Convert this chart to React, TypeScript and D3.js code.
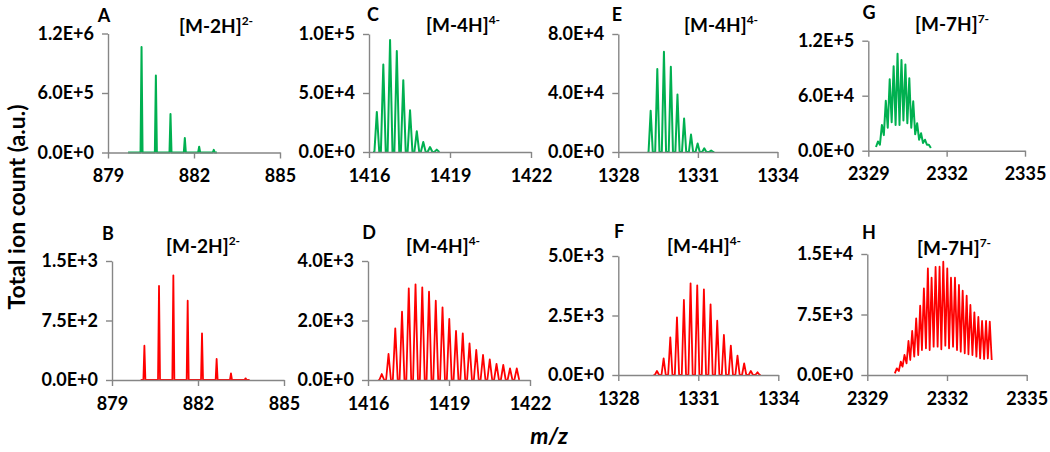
import * as React from 'react';
import {useEffect, useRef} from 'react';
import * as d3 from 'd3';

const GREEN = '#00b050';
const RED = '#ff0000';
const AXIS = '#868686';
const FONT = 'Lato, "Open Sans", sans-serif';

// A: [M-2H]2- (green)
const mzA = [880.17, 880.67, 881.18, 881.68, 882.18, 882.69];
const intA = [1.064e6, 7.77e5, 3.89e5, 1.46e5, 5.8e4, 2.7e4];
const scanA: [number, number] = [879.7, 882.8];
const xTicksA = [879, 882, 885];
const yTicksA = [0, 6e5, 1.2e6];

// B: [M-2H]2- (red)
const mzB = [880.13, 880.64, 881.14, 881.64, 882.14, 882.65, 883.15, 883.66];
const intB = [432, 1185, 1320, 1000, 588, 265, 84, 21];
const scanB: [number, number] = [880.0, 883.8];
const xTicksB = [879, 882, 885];
const yTicksB = [0, 750, 1500];

// C: [M-4H]4- (green)
const mzC = [1416.29, 1416.53, 1416.78, 1417.03, 1417.27, 1417.52, 1417.77, 1418.01, 1418.26, 1418.51];
const intC = [3.4e4, 7.42e4, 9.49e4, 8.55e4, 6.09e4, 3.54e4, 1.76e4, 8.5e3, 4.2e3, 2.0e3];
const scanC: [number, number] = [1416.15, 1418.62];
const xTicksC = [1416, 1419, 1422];
const yTicksC = [0, 5e4, 1e5];

// D: [M-4H]4- (red)
const mzD = [1416.51, 1416.76, 1417.01, 1417.26, 1417.51, 1417.76, 1418.01, 1418.26, 1418.51, 1418.76, 1419.01,
  1419.26, 1419.51, 1419.76, 1420.01, 1420.26, 1420.51, 1420.76, 1421.01, 1421.26, 1421.51];
const intD = [200, 874, 1737, 2297, 3081, 3216, 3115, 2969, 2667, 2443, 2050, 1647, 1569, 1232, 1008, 840, 695,
  538, 504, 392, 392];
const scanD: [number, number] = [1416.38, 1421.62];
const xTicksD = [1416, 1419, 1422];
const yTicksD = [0, 2000, 4000];

// E: [M-4H]4- (green)
const mzE = [1329.22, 1329.47, 1329.72, 1329.98, 1330.23, 1330.48, 1330.74, 1330.99, 1331.24, 1331.50];
const intE = [2.79e4, 5.62e4, 6.8e4, 5.78e4, 3.9e4, 2.27e4, 1.18e4, 5.7e3, 2.5e3, 1.0e3];
const scanE: [number, number] = [1329.1, 1331.62];
const xTicksE = [1328, 1331, 1334];
const yTicksE = [0, 4e4, 8e4];

// F: [M-4H]4- (red)
const mzF = [1329.45, 1329.70, 1329.95, 1330.20, 1330.46, 1330.71, 1330.96, 1331.21, 1331.46, 1331.71, 1331.96,
  1332.22, 1332.47, 1332.72, 1332.97, 1333.22];
const intF = [168, 700, 1583, 2423, 3151, 3853, 3768, 3600, 2969, 2283, 1681, 1232, 812, 490, 170, 113];
const scanF: [number, number] = [1329.32, 1333.34];
const xTicksF = [1328, 1331, 1334];
const yTicksF = [0, 2500, 5000];

// G: [M-7H]7- (green), unresolved so the signal does not return to zero
const mzG = [2329.37, 2329.52, 2329.67, 2329.82, 2329.97, 2330.12, 2330.27, 2330.42, 2330.57, 2330.72, 2330.87,
  2331.02, 2331.17, 2331.32];
const intG = [1.0e4, 2.8e4, 5.45e4, 7.8e4, 9.2e4, 1.058e5, 9.9e4, 9.4e4, 7.9e4, 5.4e4, 3.0e4, 1.9e4, 1.2e4, 6.5e3];
const valleyG = [4e3, 6.5e3, 1.7e4, 2.5e4, 3.1e4, 2.8e4, 2.8e4, 3.3e4, 3.0e4, 2.5e4, 1.8e4, 1.2e4, 8.4e3, 6.5e3, 3e3];
const xTicksG = [2329, 2332, 2335];
const yTicksG = [0, 6e4, 1.2e5];

// H: [M-7H]7- (red)
const mzH = [2330.11, 2330.26, 2330.40, 2330.55, 2330.69, 2330.84, 2330.99, 2331.13, 2331.28, 2331.42, 2331.57,
  2331.72, 2331.86, 2332.01, 2332.15, 2332.30, 2332.45, 2332.59, 2332.74, 2332.88, 2333.03, 2333.18, 2333.32,
  2333.47, 2333.61];
const intH = [826, 1653, 2479, 4215, 5455, 7025, 8595, 10744, 13223, 12066, 13388, 13430, 14050, 13223, 12066,
  12066, 11157, 10455, 9835, 8678, 7769, 7190, 6694, 6694, 6612];
const valleyH = [207, 496, 1033, 1446, 1860, 2273, 2479, 3099, 3306, 3099, 3512, 3512, 3182, 3636, 3306, 3512,
  3099, 2893, 2686, 2562, 2479, 2273, 2066, 1983, 2066, 1860];
const xTicksH = [2329, 2332, 2335];
const yTicksH = [0, 7500, 15000];

interface Frame {left: number; right: number; top: number; bottom: number;}

interface Panel {
  letter: string;
  ion: string;
  charge: string;
  mz: number[];
  intensity: number[];
  valleys?: number[];
  scan?: [number, number];
  xTicks: number[];
  yTicks: number[];
  color: string;
  halfWidth: number;
  frame: Frame;
  letterAt: [number, number];
  ionAt: [number, number];
}

const panels: Panel[] = [
  {letter: 'A', ion: '[M-2H]', charge: '2-', mz: mzA, intensity: intA, scan: scanA, xTicks: xTicksA, yTicks: yTicksA,
    color: GREEN, halfWidth: 0.035, frame: {left: 108, right: 280, top: 33.5, bottom: 152.5},
    letterAt: [104, 21.5], ionAt: [179, 32.5]},
  {letter: 'B', ion: '[M-2H]', charge: '2-', mz: mzB, intensity: intB, scan: scanB, xTicks: xTicksB, yTicks: yTicksB,
    color: RED, halfWidth: 0.035, frame: {left: 112, right: 284, top: 261, bottom: 380},
    letterAt: [108, 239.5], ionAt: [166, 252.5]},
  {letter: 'C', ion: '[M-4H]', charge: '4-', mz: mzC, intensity: intC, scan: scanC, xTicks: xTicksC, yTicks: yTicksC,
    color: GREEN, halfWidth: 0.09, frame: {left: 369, right: 531, top: 34, bottom: 152},
    letterAt: [373, 21], ionAt: [426, 32]},
  {letter: 'D', ion: '[M-4H]', charge: '4-', mz: mzD, intensity: intD, scan: scanD, xTicks: xTicksD, yTicks: yTicksD,
    color: RED, halfWidth: 0.09, frame: {left: 368, right: 530, top: 261, bottom: 380},
    letterAt: [369, 239.3], ionAt: [406, 252.5]},
  {letter: 'E', ion: '[M-4H]', charge: '4-', mz: mzE, intensity: intE, scan: scanE, xTicks: xTicksE, yTicks: yTicksE,
    color: GREEN, halfWidth: 0.08, frame: {left: 618.3, right: 777.5, top: 34, bottom: 152},
    letterAt: [617, 21], ionAt: [684, 32]},
  {letter: 'F', ion: '[M-4H]', charge: '4-', mz: mzF, intensity: intF, scan: scanF, xTicks: xTicksF, yTicks: yTicksF,
    color: RED, halfWidth: 0.08, frame: {left: 618.3, right: 778.3, top: 256, bottom: 375},
    letterAt: [619, 238], ionAt: [667, 253]},
  {letter: 'G', ion: '[M-7H]', charge: '7-', mz: mzG, intensity: intG, valleys: valleyG, xTicks: xTicksG,
    yTicks: yTicksG, color: GREEN, halfWidth: 0.075, frame: {left: 868.3, right: 1025, top: 40.7, bottom: 150.7},
    letterAt: [869, 18.5], ionAt: [915, 30.5]},
  {letter: 'H', ion: '[M-7H]', charge: '7-', mz: mzH, intensity: intH, valleys: valleyH, xTicks: xTicksH,
    yTicks: yTicksH, color: RED, halfWidth: 0.073, frame: {left: 867.3, right: 1026.7, top: 254, bottom: 375},
    letterAt: [869, 239], ionAt: [917, 255]},
];

const sci = (v: number) => {
  if (v === 0) return '0.0E+0';
  const e = Math.floor(Math.log10(v) + 1e-9);
  return `${(v / Math.pow(10, e)).toFixed(1)}E+${e}`;
};

// profile points: narrow triangles on a zero baseline, or a peak/valley zigzag when valleys are given
function profile(p: Panel): [number, number][] {
  const pts: [number, number][] = [];
  const hw = p.halfWidth;
  if (p.valleys) {
    p.mz.forEach((m, i) => {
      pts.push([m - hw, p.valleys![i]]);
      pts.push([m, p.intensity[i]]);
    });
    pts.push([p.mz[p.mz.length - 1] + hw, p.valleys[p.valleys.length - 1]]);
    return pts;
  }
  if (p.scan) pts.push([p.scan[0], 0]);
  p.mz.forEach((m, i) => {
    pts.push([m - hw, 0]);
    pts.push([m, p.intensity[i]]);
    pts.push([m + hw, 0]);
  });
  if (p.scan) pts.push([p.scan[1], 0]);
  return pts;
}

function Spectrum({panel}: {panel: Panel}) {
  const ref = useRef<SVGGElement>(null);

  useEffect(() => {
    const f = panel.frame;
    const x = d3.scaleLinear()
      .domain([panel.xTicks[0], panel.xTicks[panel.xTicks.length - 1]])
      .range([f.left, f.right]);
    const y = d3.scaleLinear()
      .domain([0, panel.yTicks[panel.yTicks.length - 1]])
      .range([f.bottom, f.top]);

    const g = d3.select(ref.current);
    g.selectAll('*').remove();

    const line = d3.line<[number, number]>()
      .x(d => x(d[0]))
      .y(d => y(d[1]));

    g.append('path')
      .attr('d', line(profile(panel)))
      .attr('fill', 'none')
      .attr('stroke', panel.color)
      .attr('stroke-width', panel.color === GREEN ? 2 : 1.8)
      .attr('stroke-linejoin', 'round');

    const yAxis = g.append('g')
      .attr('transform', `translate(${f.left},0)`)
      .call(d3.axisLeft(y).tickValues(panel.yTicks).tickFormat(d => sci(+d))
        .tickSize(6).tickSizeOuter(0).tickPadding(8));

    const xAxis = g.append('g')
      .attr('transform', `translate(0,${f.bottom})`)
      .call(d3.axisBottom(x).tickValues(panel.xTicks).tickFormat(d => String(d))
        .tickSize(6).tickSizeOuter(0).tickPadding(11));

    [yAxis, xAxis].forEach(a => {
      a.attr('font-family', FONT).attr('font-size', 18).attr('font-weight', 700);
      a.select('.domain').attr('stroke', AXIS).attr('stroke-width', 1.4);
      a.selectAll('.tick line').attr('stroke', AXIS).attr('stroke-width', 1.4);
      a.selectAll('.tick text').attr('fill', '#000');
    });
  }, [panel]);

  return (
    <g>
      <g ref={ref} />
      <text x={panel.letterAt[0]} y={panel.letterAt[1]} textAnchor="middle" fontFamily={FONT}
        fontWeight={700} fontSize={18}>{panel.letter}</text>
      <text x={panel.ionAt[0]} y={panel.ionAt[1]} fontFamily={FONT} fontWeight={700} fontSize={19}>
        {panel.ion}<tspan fontSize={12} dy={-8}>{panel.charge}</tspan>
      </text>
    </g>
  );
}

export default function App() {
  return (
    <svg width={1050} height={452} style={{position: 'absolute', left: 0, top: 0, background: '#fff'}}>
      {panels.map(p => <Spectrum key={p.letter} panel={p} />)}
      <text transform="translate(25,207) rotate(-90)" textAnchor="middle" fontFamily={FONT} fontWeight={700}
        fontSize={23}>Total ion count (a.u.)</text>
      <text x={549} y={444} textAnchor="middle" fontFamily={FONT} fontWeight={700} fontStyle="italic"
        fontSize={23}>m/z</text>
    </svg>
  );
}
